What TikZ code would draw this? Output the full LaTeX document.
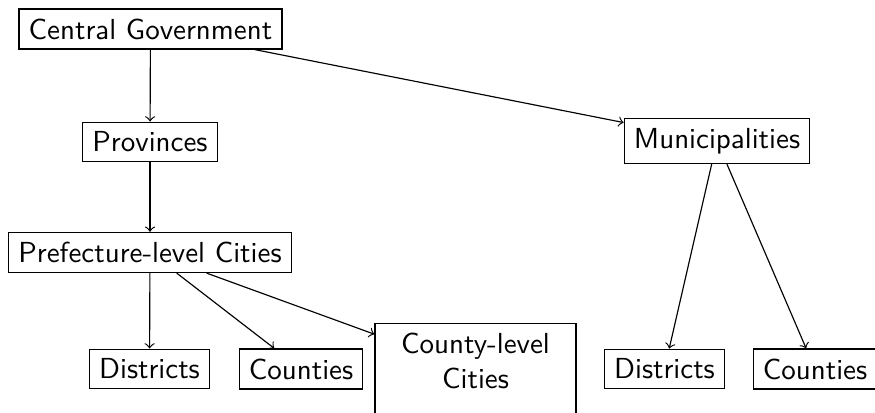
\documentclass[tikz,border=0pt]{standalone}
\begin{document}
\begin{tikzpicture}[x=0.345pt,y=-0.345pt,font=\sffamily,
  box/.style={draw,rectangle,line width=0.4pt},
  arr/.style={->,line width=0.4pt}]
\useasboundingbox (0,0) rectangle (875,413);
\node[box] (cg) at (150.5,29) {Central Government};
\node[box] (prov) at (150,142) {Provinces};
\node[box] (muni) at (717,141) {Municipalities};
\node[box] (pref) at (150,252.5) {Prefecture-level Cities};
\node[box] (d1) at (149.5,369) {Districts};
\node[box] (c1) at (301,369) {Counties};
\node[box,text width=62.7pt,align=center,text depth=19pt,anchor=north] (clc) at (475.5,323) {County-level\\Cities};
\node[box] (d2) at (664.5,369) {Districts};
\node[box] (c2) at (815,369) {Counties};
\draw[arr] (cg) -- (prov);
\draw[arr] (cg) -- (muni);
\draw[arr] (prov) -- (pref);
\draw[arr] (pref) -- (d1);
\draw[arr] (pref) -- (c1);
\draw[arr] (pref) -- (clc);
\draw[arr] (muni) -- (d2);
\draw[arr] (muni) -- (c2);
\end{tikzpicture}
\end{document}
